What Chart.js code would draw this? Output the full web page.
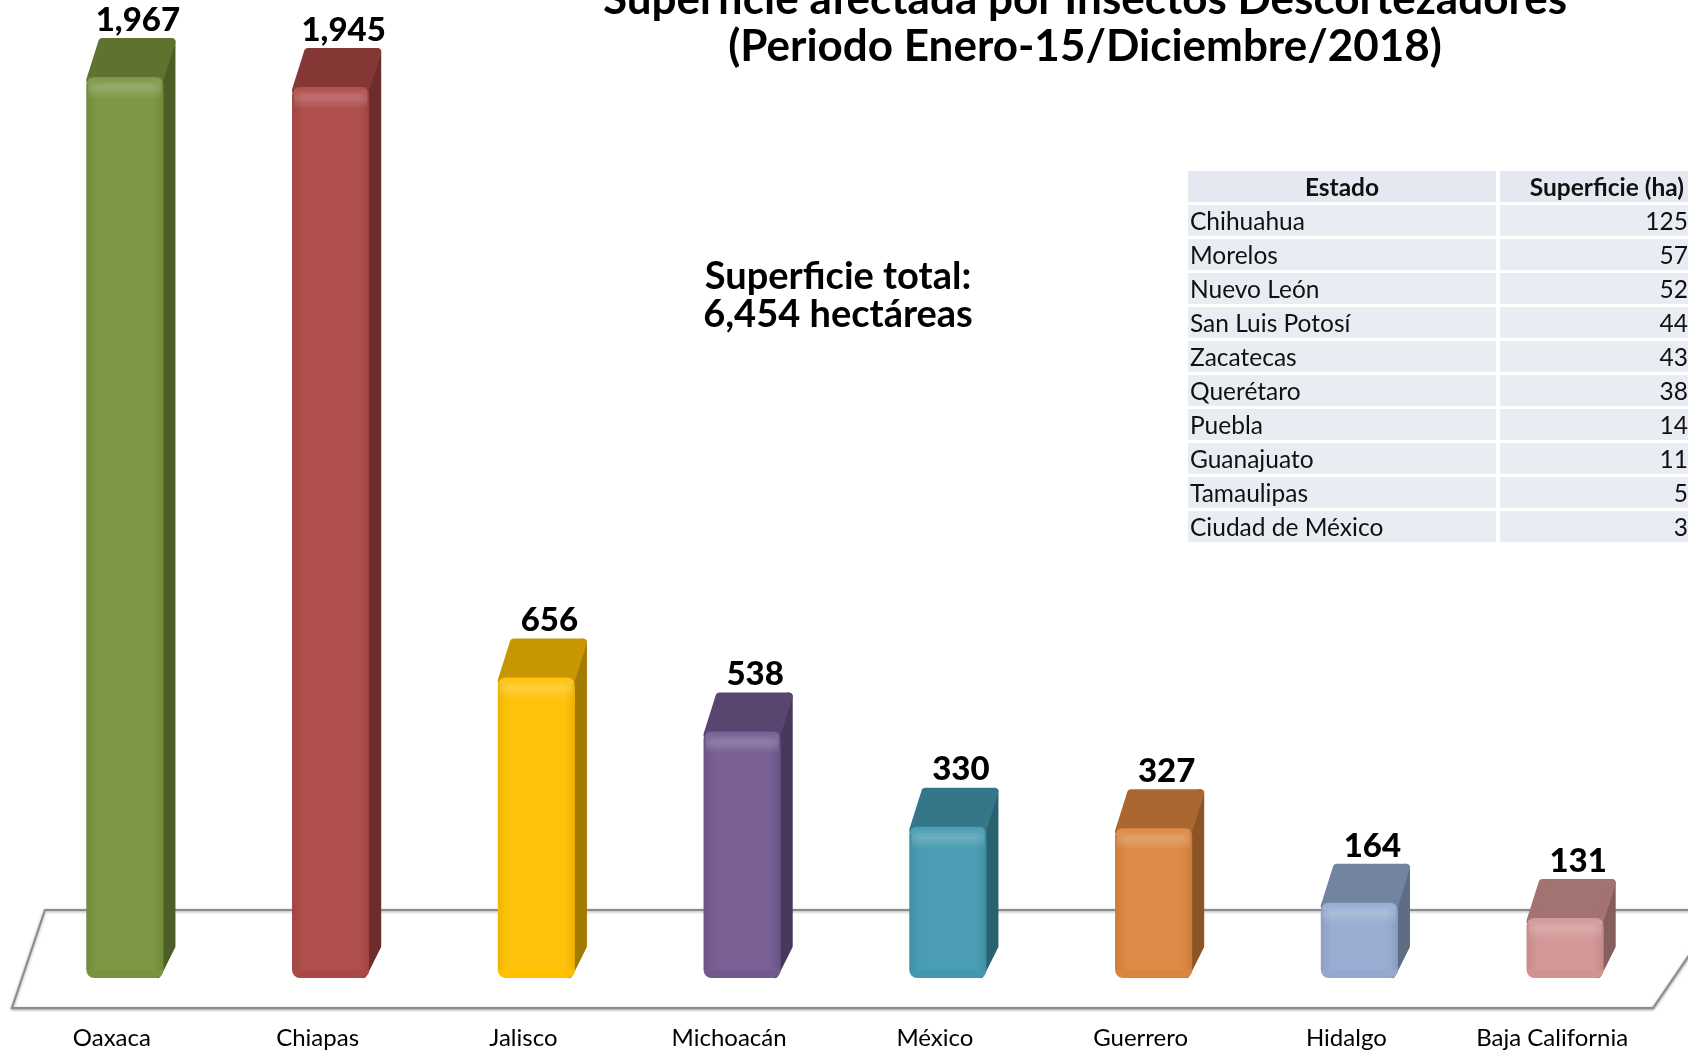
<!DOCTYPE html>
<html lang="es">
<head>
<meta charset="utf-8">
<title>Superficie afectada por Insectos Descortezadores</title>
<script src="https://cdn.jsdelivr.net/npm/chart.js@4/dist/chart.umd.min.js"></script>
<style>
  html, body { margin: 0; padding: 0; background: #fff; overflow: hidden; }
  #lienzo { position: relative; width: 1688px; height: 1051px; overflow: hidden; }
  #grafico { position: absolute; left: 0; top: 0; }
  .titulo {
    position: absolute; left: 585px; width: 1000px; text-align: center;
    font-family: Lato, sans-serif; font-weight: 700; font-size: 44px; color: #000;
    line-height: 47px; top: -26px; white-space: nowrap;
  }
  .total {
    position: absolute; left: 638px; width: 400px; text-align: center;
    font-family: Lato, sans-serif; font-weight: 700; font-size: 38px; color: #000;
    line-height: 38px; top: 255px;
  }
  table.otros {
    position: absolute; left: 1188px; top: 171px; border-collapse: separate;
    border-spacing: 0 3px; margin-top: -3px; table-layout: fixed; width: 520px;
    font-family: Lato, sans-serif; font-size: 24.5px; color: #111;
  }
  table.otros td, table.otros th { height: 31px; padding: 0 2px; background: #e8ecf3; white-space: nowrap; }
  table.otros th { font-weight: 700; text-align: center; background: #e4e9f1; }
  table.otros td:first-child, table.otros th:first-child { width: 304px; border-right: 4px solid #fff; }
  table.otros td:last-child { text-align: right; padding-right: 20px; }
  table.otros th:last-child { text-align: right; padding-right: 24px; }
</style>
</head>
<body>
<div id="lienzo">
  <canvas id="grafico" width="1688" height="1051"></canvas>
  <div class="titulo">Superficie afectada por Insectos Descortezadores<br>(Periodo Enero-15/Diciembre/2018)</div>
  <div class="total">Superficie total:<br>6,454 hectáreas</div>
  <table class="otros" id="tabla"></table>
</div>
<script>
const estados = ['Oaxaca', 'Chiapas', 'Jalisco', 'Michoacán', 'México', 'Guerrero', 'Hidalgo', 'Baja California'];
const superficie = [1967, 1945, 656, 538, 330, 327, 164, 131];
const colores = ['#77933c', '#ab4744', '#ffc000', '#71588f', '#4198af', '#db843d', '#93a9cf', '#d19392'];

const otrosEstados = ['Chihuahua', 'Morelos', 'Nuevo León', 'San Luis Potosí', 'Zacatecas', 'Querétaro', 'Puebla', 'Guanajuato', 'Tamaulipas', 'Ciudad de México'];
const otrosValores = [125, 57, 52, 44, 43, 38, 14, 11, 5, 3];

// tabla de los demás estados
const tabla = document.getElementById('tabla');
let filas = '<tr><th>Estado</th><th>Superficie (ha)</th></tr>';
otrosEstados.forEach(function (e, i) {
  filas += '<tr><td>' + e + '</td><td>' + otrosValores[i] + '</td></tr>';
});
tabla.innerHTML = filas;

function oscurecer(hex, f) {
  const n = parseInt(hex.slice(1), 16);
  const r = Math.round(((n >> 16) & 255) * f);
  const g = Math.round(((n >> 8) & 255) * f);
  const b = Math.round((n & 255) * f);
  return 'rgb(' + r + ',' + g + ',' + b + ')';
}

const dx = 12, dy = 38;

const barras3d = {
  id: 'barras3d',
  beforeDatasetsDraw(chart) {
    const ctx = chart.ctx;
    // piso
    ctx.save();
    ctx.beginPath();
    ctx.moveTo(45, 910);
    ctx.lineTo(1720, 910);
    ctx.lineTo(1653, 1008);
    ctx.lineTo(12, 1008);
    ctx.closePath();
    ctx.fillStyle = '#fff';
    ctx.shadowColor = 'rgba(0,0,0,0.35)';
    ctx.shadowBlur = 3;
    ctx.shadowOffsetY = 1;
    ctx.fill();
    ctx.strokeStyle = '#8c8c8c';
    ctx.lineWidth = 2;
    ctx.stroke();
    ctx.restore();

    // caras superior y lateral
    const meta = chart.getDatasetMeta(0);
    meta.data.forEach(function (bar, i) {
      const x0 = bar.x - bar.width / 2, x1 = bar.x + bar.width / 2;
      const yt = bar.y + 3, base = bar.base;
      ctx.save();
      ctx.lineJoin = 'round';
      ctx.lineWidth = 8;
      // lateral
      ctx.beginPath();
      ctx.moveTo(x1 - 4, yt);
      ctx.lineTo(x1 + dx - 4, yt - dy);
      ctx.lineTo(x1 + dx - 4, base - 32);
      ctx.lineTo(x1 - 6, base - 4);
      ctx.closePath();
      ctx.fillStyle = ctx.strokeStyle = oscurecer(colores[i], 0.64);
      ctx.fill();
      ctx.stroke();
      // superior
      ctx.beginPath();
      ctx.moveTo(x0 + 4, yt);
      ctx.lineTo(x1 - 4, yt);
      ctx.lineTo(x1 + dx - 4, yt - dy);
      ctx.lineTo(x0 + dx + 4, yt - dy);
      ctx.closePath();
      ctx.fillStyle = ctx.strokeStyle = oscurecer(colores[i], 0.78);
      ctx.fill();
      ctx.stroke();
      ctx.restore();
    });
  },
  afterDatasetsDraw(chart) {
    const ctx = chart.ctx;
    const meta = chart.getDatasetMeta(0);
    ctx.save();
    meta.data.forEach(function (bar, i) {
      // brillo del bisel superior
      const x0 = bar.x - bar.width / 2, x1 = bar.x + bar.width / 2;
      const g = ctx.createLinearGradient(0, bar.y, 0, bar.y + 22);
      g.addColorStop(0, 'rgba(255,255,255,0.05)');
      g.addColorStop(0.5, 'rgba(255,255,255,0.18)');
      g.addColorStop(1, 'rgba(255,255,255,0)');
      ctx.fillStyle = g;
      ctx.fillRect(x0 + 2, bar.y, x1 - x0 - 4, 22);
      const h = ctx.createLinearGradient(x0, 0, x1, 0);
      h.addColorStop(0, 'rgba(0,0,0,0.06)');
      h.addColorStop(0.15, 'rgba(255,255,255,0.05)');
      h.addColorStop(0.85, 'rgba(255,255,255,0.05)');
      h.addColorStop(1, 'rgba(0,0,0,0.08)');
      ctx.fillStyle = h;
      ctx.fillRect(x0, bar.y + 6, x1 - x0, bar.base - bar.y - 14);

      // valor
      ctx.fillStyle = '#000';
      ctx.font = '900 33px Lato';
      ctx.textAlign = 'center';
      ctx.textBaseline = 'middle';
      ctx.fillText(superficie[i].toLocaleString('en-US'), bar.x + 13, bar.y - 57);

      // estado
      ctx.font = '24px Lato';
      ctx.fillText(estados[i], bar.x - 13, 1038);
    });
    ctx.restore();
  }
};

new Chart(document.getElementById('grafico'), {
  type: 'bar',
  data: {
    labels: estados,
    datasets: [{
      label: 'Superficie (ha)',
      data: superficie,
      backgroundColor: colores,
      borderRadius: 8,
      borderSkipped: false,
      barPercentage: 0.375,
      categoryPercentage: 1
    }]
  },
  options: {
    responsive: false,
    animation: false,
    layout: { padding: { left: 22, right: 20, top: 0, bottom: 73 } },
    plugins: {
      legend: { display: false },
      title: { display: false },
      tooltip: { enabled: false }
    },
    scales: {
      x: { display: false },
      y: { display: false, min: 0, max: 2135 }
    }
  },
  plugins: [barras3d]
});
</script>
</body>
</html>
